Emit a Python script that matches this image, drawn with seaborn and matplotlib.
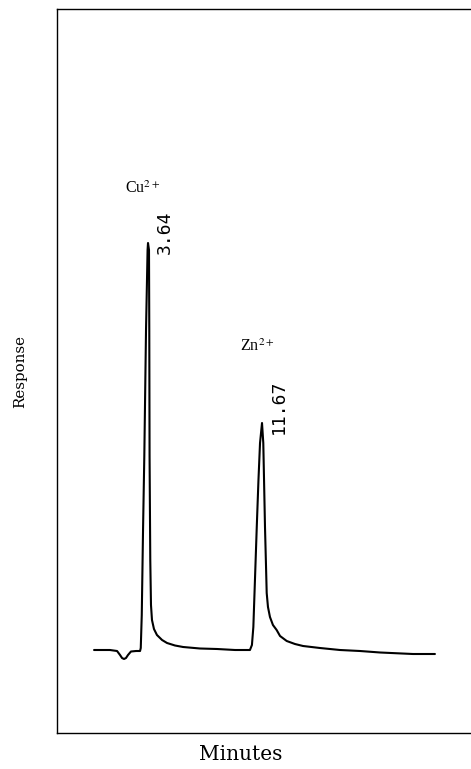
import matplotlib
matplotlib.use("Agg")
import matplotlib.pyplot as plt
import seaborn as sns
import pandas as pd

# Chromatogram trace (time in minutes, detector response in arbitrary units)
time_min = [-0.16, 0.96, 1.46, 1.67, 1.81, 1.95, 2.09, 2.23, 2.44, 2.80, 3.08, 3.13, 3.20,
            3.29, 3.38, 3.50, 3.61, 3.64, 3.71, 3.73, 3.75, 3.80, 3.85, 3.92, 4.06, 4.27,
            4.63, 4.98, 5.54, 6.11, 7.30, 8.50, 9.77, 10.82, 10.96, 11.06, 11.18, 11.30,
            11.42, 11.53, 11.67, 11.76, 11.82, 11.88, 11.95, 12.00, 12.09, 12.23, 12.44,
            12.70, 12.94, 13.41, 13.99, 14.56, 15.75, 17.16, 18.57, 19.99, 22.30, 23.85]
response = [0, 0, -1, -5, -8, -9, -8, -5, -1.5, -1, -1, 2, 35,
            120, 194, 320, 400, 407, 400, 320, 194, 90, 45, 30, 21, 15,
            10, 7, 4.5, 3, 1.5, 1, 0, 0, 5, 23, 73, 123,
            170, 207, 227, 207, 165, 123, 85, 57, 43, 33, 25,
            20, 14, 9, 6, 4, 2, 0, -1, -2.5, -4, -4]

peak_names = ["Cu$^{2+}$", "Zn$^{2+}$"]
peak_times = [3.64, 11.67]
peak_heights = [407, 227]
peak_labels = ["3.64", "11.67"]

df = pd.DataFrame({"Minutes": time_min, "Response": response})

sns.set_theme(style="white")
plt.rcParams["mathtext.fontset"] = "stix"
fig = plt.figure(figsize=(4.71, 7.69), dpi=100)
ax = fig.add_axes([57 / 471, 36 / 769, 1 - 57 / 471, 724 / 769])

sns.lineplot(data=df, x="Minutes", y="Response", ax=ax, color="black",
             linewidth=1.5, sort=False, estimator=None)

ax.set_xlim(-2.77, 26.39)
ax.set_ylim(-83, 641)
ax.set_xticks([])
ax.set_yticks([])
ax.set_xlabel("Minutes", family="DejaVu Serif", fontsize=14.5, color="black")
ax.xaxis.set_label_coords(0.444, -0.016, transform=ax.transAxes)
ax.xaxis.label.set_va("top")
ax.set_ylabel("Response", family="DejaVu Serif", fontsize=10.8, color="black")
ax.yaxis.set_label_coords(-0.073, 0.5, transform=ax.transAxes)

for sp in ["left", "top", "bottom"]:
    ax.spines[sp].set_color("black")
    ax.spines[sp].set_linewidth(1.0)
ax.spines["right"].set_visible(False)

name_offsets = [(-5, 54), (-5, 76)]
for name, t, h, lab, off in zip(peak_names, peak_times, peak_heights, peak_labels, name_offsets):
    ax.annotate(name, xy=(t, h), xytext=off, textcoords="offset pixels",
                ha="center", va="center", family="Liberation Serif", fontsize=11.5,
                color="black")
    ax.annotate(lab, xy=(t, h), xytext=(8, -11), textcoords="offset pixels",
                ha="left", va="bottom", rotation=90, family="DejaVu Sans Mono",
                fontsize=13, color="black")

fig.savefig("out.png", dpi=100)
